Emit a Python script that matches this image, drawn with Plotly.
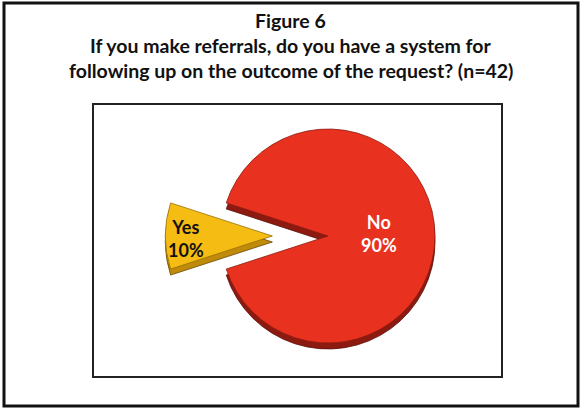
import plotly.graph_objects as go

# Survey answers (percent of respondents, n=42)
labels = ["Yes", "No"]
values = [10, 90]

face_colors = ["#F5BC14", "#E8311F"]
side_colors = ["#C08A0A", "#8C1A10"]
text_colors = ["#111111", "#FFFFFF"]

title_lines = [
    "Figure 6",
    "If you make referrals, do you have a system for",
    "following up on the outcome of the request? (n=42)",
]

W, H = 581, 409


def px_x(px):
    return px / W


def px_y(py):
    return 1 - py / H


# pie geometry in pixels
cx, cy = 328, 236
radius = 107
pull = 0.52
depth = 6
half = radius * (1 + pull)

total = sum(values)
pcts = [round(100 * v / total) for v in values]

fig = go.Figure()

# darker copy shifted down gives the slices a visible thickness
for shift, colors, line_col in [
    (depth, side_colors, ["#6a4a00", "#5a0e08"]),
    (0, face_colors, ["#9a7000", "#8a1a10"]),
]:
    fig.add_trace(go.Pie(
        labels=labels,
        values=values,
        sort=False,
        direction="clockwise",
        rotation=270 - 180 * values[0] / total,
        pull=[pull, 0],
        textinfo="none",
        hoverinfo="label+percent",
        showlegend=False,
        marker=dict(colors=colors, line=dict(color=line_col, width=0.8)),
        domain=dict(
            x=[px_x(cx - half), px_x(cx + half)],
            y=[px_y(cy + shift + half), px_y(cy + shift - half)],
        ),
    ))

# slice labels
label_pos = [(186, 238), (379, 233)]
for lab, pct, (lx, ly), col in zip(labels, pcts, label_pos, text_colors):
    fig.add_annotation(
        x=px_x(lx), y=px_y(ly), xref="paper", yref="paper",
        text=f"<b>{lab}</b><br><b>{pct}%</b>",
        showarrow=False, xanchor="center", yanchor="middle",
        font=dict(family="Lato", size=18, color=col),
    )

# heading, one line per annotation
title_y = [20, 46, 71]
for line, ty in zip(title_lines, title_y):
    fig.add_annotation(
        x=0.5, y=px_y(ty), xref="paper", yref="paper",
        text=f"<b>{line}</b>",
        showarrow=False, xanchor="center", yanchor="middle",
        font=dict(family="Lato", size=19.5, color="#111111"),
    )

# outer frame and inner plot box
fig.add_shape(type="rect", xref="paper", yref="paper",
              x0=px_x(4), y0=px_y(406), x1=px_x(578), y1=px_y(3),
              line=dict(color="#111111", width=3))
fig.add_shape(type="rect", xref="paper", yref="paper",
              x0=px_x(93), y0=px_y(377), x1=px_x(502), y1=px_y(104),
              line=dict(color="#222222", width=2))

fig.update_layout(
    width=W, height=H,
    margin=dict(l=0, r=0, t=0, b=0),
    paper_bgcolor="white",
    plot_bgcolor="white",
)

fig.write_html("out.html")
